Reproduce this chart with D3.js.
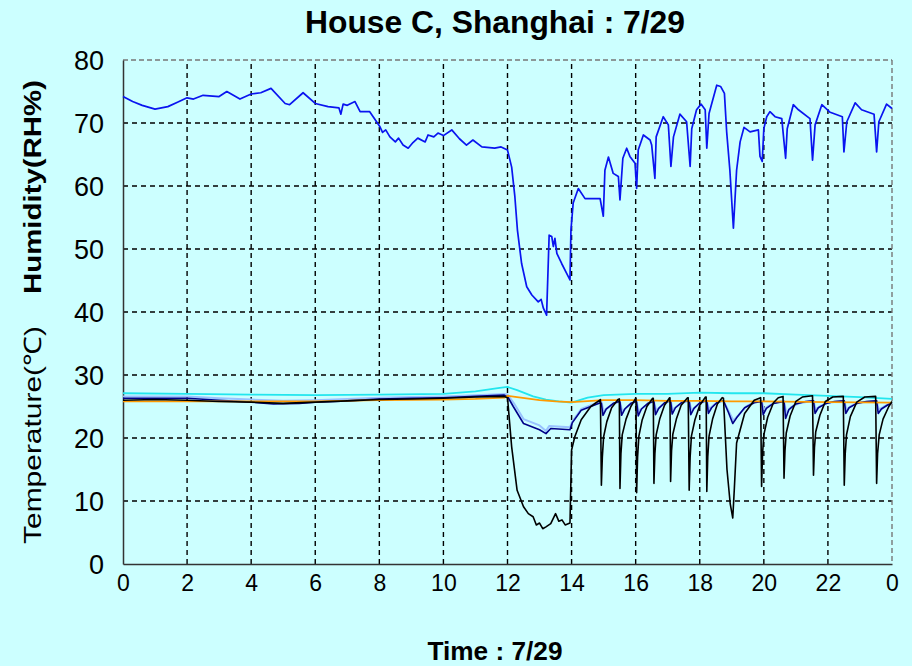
<html>
<head>
<script src="https://d3js.org/d3.v7.min.js"></script>
<style>
body { margin: 0; background: #ccffff; }
svg { display: block; }
text { font-family: "Liberation Sans", Arial, sans-serif; fill: #000; }
.grid line { stroke: #000; stroke-width: 1.4; stroke-dasharray: 5,4; }
</style>
</head>
<body>
<div id="plot"></div>
<script>

var width = 912;
var height = 666;

// x tick values and labels (hours of 7/29)
var xTicks = [0, 2, 4, 6, 8, 10, 12, 14, 16, 18, 20, 22, 24];
var xTickLabels = ["0", "2", "4", "6", "8", "10", "12", "14", "16", "18", "20", "22", "0"];
var yTicks = [0, 10, 20, 30, 40, 50, 60, 70, 80];

// humidity (RH%), [hour, value]
var humidity = [
  [0, 74.2], [0.15, 73.8], [0.3, 73.4], [0.6, 72.8], [1.0, 72.2], [1.4, 72.6], [1.7, 73.3], [2.0, 74.0],
  [2.2, 73.8], [2.5, 74.4], [3.0, 74.2], [3.24, 75.0], [3.65, 73.8], [4.0, 74.6], [4.3, 74.8],
  [4.62, 75.5], [5.06, 73.1], [5.2, 72.9], [5.62, 74.8], [6.0, 73.1], [6.4, 72.6],
  [6.74, 72.4], [6.8, 71.4], [6.87, 73.0], [7.0, 72.8], [7.24, 73.4], [7.4, 71.8], [7.7, 71.8],
  [8.02, 69.4], [8.1, 68.5], [8.2, 68.9], [8.33, 67.8], [8.5, 67.0], [8.6, 67.6], [8.74, 66.5], [8.9, 66.0],
  [9.05, 66.9], [9.2, 67.6], [9.43, 67.0], [9.52, 68.1], [9.7, 67.8], [9.83, 68.4], [10.0, 68.0], [10.26, 68.9],
  [10.5, 67.5], [10.72, 66.5], [10.92, 67.3], [11.2, 66.2], [11.6, 66.0], [11.8, 66.2], [12.0, 65.7],
  [12.13, 63.0], [12.23, 58.3], [12.31, 53.0], [12.44, 47.7], [12.6, 44.0], [12.76, 42.7],
  [12.96, 41.6], [13.05, 42.0], [13.12, 40.6], [13.22, 39.5], [13.3, 52.2], [13.38, 52.0], [13.43, 50.4],
  [13.48, 51.7], [13.54, 49.3], [13.69, 47.7], [13.85, 46.1], [13.95, 45.1], [13.98, 53.0],
  [14.05, 57.3], [14.21, 59.6], [14.42, 58.0], [14.89, 58.0], [14.99, 55.2], [15.04, 62.5],
  [15.15, 64.6], [15.3, 62.0], [15.46, 61.5], [15.51, 57.8], [15.6, 64.4], [15.72, 66.0],
  [15.82, 64.7], [15.98, 63.6], [16.03, 59.6], [16.08, 65.7], [16.24, 68.1], [16.45, 67.3],
  [16.5, 66.5], [16.6, 61.2], [16.64, 67.8], [16.86, 71.0], [17.02, 69.7], [17.1, 63.1],
  [17.18, 67.8], [17.38, 71.4], [17.59, 70.2], [17.7, 63.1], [17.75, 69.1], [17.9, 72.1],
  [18.04, 73.0], [18.17, 72.1], [18.22, 66.0], [18.29, 71.5], [18.53, 76.0], [18.65, 75.8],
  [18.77, 74.7], [18.84, 68.6], [18.94, 62.5], [19.05, 53.3], [19.15, 62.5], [19.26, 67.0],
  [19.38, 69.3], [19.57, 68.6], [19.83, 68.9], [19.88, 64.7], [19.95, 63.9], [20.0, 69.1],
  [20.09, 71.0], [20.19, 71.8], [20.35, 71.0], [20.56, 70.7], [20.63, 67.0], [20.68, 64.4],
  [20.73, 69.1], [20.92, 72.9], [21.08, 72.1], [21.44, 70.7], [21.52, 64.1], [21.6, 69.7],
  [21.81, 72.9], [22.07, 71.7], [22.45, 71.0], [22.5, 65.4], [22.59, 70.2], [22.85, 73.2],
  [23.05, 72.1], [23.44, 71.4], [23.52, 65.4], [23.59, 70.2], [23.83, 73.0], [24.0, 72.3]
];

// temperature sensors (deg C), [hour, value]
var tempBlack = [
  [0, 26.0], [1, 26.1], [2, 26.0], [3, 25.8], [4, 25.7], [5, 25.5], [6, 25.7], [7, 25.9],
  [8, 26.1], [9, 26.2], [10, 26.3], [11, 26.5], [11.9, 26.6], [12.0, 26.4], [12.13, 18.6],
  [12.3, 11.7], [12.5, 9.1], [12.65, 8.0], [12.8, 7.5], [12.9, 6.2], [13.0, 6.5], [13.1, 5.6], [13.2, 5.9],
  [13.35, 6.4], [13.5, 8.0], [13.6, 6.8], [13.7, 7.0], [13.8, 6.2], [13.95, 6.5], [14.0, 18.1],
  [14.1, 20.2], [14.3, 22.9], [14.6, 25.0], [14.9, 26.1],
  [14.93, 12.5], [14.96, 17.0], [15.0, 20.2], [15.1, 22.6], [15.25, 24.8], [15.45, 26.1],
  [15.49, 26.2], [15.51, 12.0], [15.54, 17.5], [15.58, 20.5], [15.7, 23.0], [15.85, 25.0], [15.99, 26.2],
  [16.01, 26.3], [16.03, 11.3], [16.06, 17.0], [16.1, 20.3], [16.2, 22.8], [16.35, 25.0], [16.53, 26.3],
  [16.55, 26.3], [16.57, 12.8], [16.6, 17.5], [16.64, 20.5], [16.75, 23.0], [16.9, 25.2], [17.06, 26.4],
  [17.07, 26.4], [17.09, 13.1], [17.12, 18.0], [17.16, 20.6], [17.27, 23.0], [17.42, 25.2], [17.62, 26.4],
  [17.64, 26.4], [17.67, 11.7], [17.7, 17.0], [17.74, 20.3], [17.85, 22.9], [18.0, 25.2], [18.18, 26.5],
  [18.2, 26.5], [18.22, 11.5], [18.25, 17.0], [18.29, 20.3], [18.4, 23.0], [18.55, 25.4], [18.7, 26.4],
  [18.74, 26.3], [18.85, 15.0], [18.95, 9.6], [19.03, 7.3], [19.08, 12.0], [19.15, 19.2], [19.4, 23.9],
  [19.7, 26.0], [19.9, 26.4], [19.93, 12.3], [19.96, 17.5], [20.0, 20.5], [20.12, 23.3], [20.3, 25.6],
  [20.45, 26.4], [20.6, 26.6], [20.63, 13.6], [20.66, 18.0], [20.7, 20.8], [20.82, 23.5], [21.0, 25.8],
  [21.2, 26.5], [21.52, 26.7], [21.55, 14.1], [21.58, 18.5], [21.62, 21.0], [21.75, 23.6], [21.92, 25.8],
  [22.15, 26.5], [22.48, 26.6], [22.51, 12.5], [22.54, 17.5], [22.58, 20.5], [22.7, 23.4], [22.9, 25.7],
  [23.15, 26.5], [23.49, 26.6], [23.52, 12.8], [23.55, 17.5], [23.6, 20.5], [23.72, 23.0], [23.9, 25.0],
  [24.0, 25.8]
];

var tempNavy = [
  [0, 26.3], [2, 26.3], [3, 26.0], [4, 25.7], [4.7, 25.4], [5.5, 25.5], [6, 25.7], [7, 25.9],
  [8, 26.2], [9, 26.3], [10, 26.4], [11, 26.6], [11.9, 26.8], [12.0, 26.6], [12.18, 25.0],
  [12.5, 22.3], [13.0, 21.3], [13.2, 20.7], [13.35, 21.5], [13.95, 21.3], [14.02, 22.4],
  [14.3, 24.4], [14.7, 25.2], [14.9, 25.6],
  [14.93, 25.5], [14.98, 23.6], [15.08, 24.6], [15.3, 25.5], [15.49, 25.8],
  [15.51, 25.7], [15.56, 23.6], [15.66, 24.6], [15.85, 25.5], [16.01, 25.8],
  [16.03, 25.7], [16.08, 23.5], [16.18, 24.6], [16.38, 25.5], [16.55, 25.8],
  [16.57, 25.8], [16.62, 23.7], [16.72, 24.7], [16.9, 25.6], [17.07, 25.9],
  [17.09, 25.9], [17.14, 23.8], [17.24, 24.8], [17.45, 25.7], [17.64, 25.9],
  [17.67, 25.9], [17.72, 23.7], [17.82, 24.7], [18.0, 25.6], [18.2, 25.9],
  [18.22, 25.9], [18.27, 23.9], [18.37, 24.8], [18.55, 25.7], [18.74, 25.9],
  [18.9, 24.0], [19.03, 22.3], [19.15, 23.2], [19.4, 24.8], [19.7, 25.6], [19.93, 25.8],
  [19.98, 23.7], [20.08, 24.7], [20.3, 25.5], [20.63, 25.8],
  [20.68, 23.1], [20.78, 24.5], [21.0, 25.4], [21.3, 25.8], [21.55, 25.9],
  [21.6, 23.9], [21.7, 24.8], [21.95, 25.5], [22.2, 25.8], [22.51, 25.9],
  [22.56, 23.9], [22.66, 24.8], [22.9, 25.5], [23.2, 25.8], [23.52, 25.9],
  [23.57, 23.9], [23.67, 24.6], [23.85, 25.2], [24.0, 25.6]
];

var tempLightBlue = [
  [0, 26.6], [2, 26.6], [3, 26.3], [4, 26.1], [5, 25.9], [6, 26.0], [7, 26.2], [8, 26.4],
  [9, 26.5], [10, 26.6], [11, 26.8], [11.9, 27.0], [12.0, 26.9], [12.2, 25.5], [12.5, 23.0],
  [13.0, 22.0], [13.2, 21.1], [13.3, 21.9], [13.95, 21.7], [14.02, 22.6], [14.3, 24.6],
  [14.7, 25.4], [14.9, 25.8],
  [14.93, 25.7], [15.0, 24.3], [15.15, 24.9], [15.35, 25.5], [15.51, 25.8],
  [15.58, 24.2], [15.72, 24.9], [15.9, 25.5], [16.03, 25.8],
  [16.1, 24.2], [16.24, 24.9], [16.42, 25.5], [16.57, 25.8],
  [16.64, 24.4], [16.78, 25.0], [16.95, 25.6], [17.09, 25.9],
  [17.16, 24.5], [17.3, 25.1], [17.48, 25.6], [17.67, 25.9],
  [17.74, 24.4], [17.88, 25.0], [18.05, 25.6], [18.22, 25.9],
  [18.29, 24.6], [18.43, 25.2], [18.6, 25.7], [18.74, 25.9],
  [18.9, 24.3], [19.05, 22.8], [19.2, 23.6], [19.45, 25.0], [19.7, 25.7], [19.93, 25.9],
  [20.0, 24.5], [20.15, 25.1], [20.35, 25.6], [20.63, 25.9],
  [20.7, 24.0], [20.85, 24.9], [21.1, 25.5], [21.55, 25.9],
  [21.62, 24.5], [21.77, 25.1], [22.0, 25.6], [22.51, 25.9],
  [22.58, 24.5], [22.73, 25.1], [22.95, 25.6], [23.52, 25.9],
  [23.59, 24.5], [23.75, 25.0], [24.0, 25.6]
];

var tempCyan = [
  [0, 27.1], [2, 27.0], [4, 26.9], [6, 26.8], [8, 26.9], [10, 27.0], [11, 27.4], [11.7, 27.9],
  [12.0, 28.1], [12.3, 27.6], [12.8, 26.6], [13.2, 26.1], [13.6, 25.8], [14.0, 25.6], [14.5, 26.4],
  [15, 26.8], [16, 27.0], [17, 27.0], [18, 27.2], [19, 27.1], [20, 27.1], [21, 26.9], [22, 26.7],
  [23, 26.5], [24, 26.2]
];

var tempOrange = [
  [0, 25.8], [2, 25.8], [4, 25.8], [6, 25.8], [8, 26.0], [10, 26.1], [11, 26.2], [11.9, 26.4],
  [12.0, 26.7], [12.3, 26.5], [13, 26.0], [13.5, 25.8], [14, 25.7], [15, 26.0], [16, 26.0],
  [17, 25.9], [18, 25.9], [19, 25.8], [20, 25.8], [22, 25.7], [24, 25.6]
];

var svg = d3.select("#plot").append("svg")
  .attr("width", width).attr("height", height);

var xScale = d3.scaleLinear().domain([0, 24]).range([123, 892]);
var yScale = d3.scaleLinear().domain([0, 80]).range([564, 60]);

// grid
var grid = svg.append("g").attr("class", "grid");
grid.selectAll("line.v").data(xTicks.slice(1, -1)).enter().append("line")
  .attr("x1", function (d) { return xScale(d); })
  .attr("x2", function (d) { return xScale(d); })
  .attr("y1", yScale(0)).attr("y2", yScale(80));
grid.selectAll("line.h").data(yTicks.slice(1, -1)).enter().append("line")
  .attr("y1", function (d) { return yScale(d); })
  .attr("y2", function (d) { return yScale(d); })
  .attr("x1", xScale(0)).attr("x2", xScale(24));

// top and right frame, dashed grey
svg.append("line")
  .attr("x1", xScale(0)).attr("x2", xScale(24))
  .attr("y1", yScale(80)).attr("y2", yScale(80))
  .style("stroke", "#777").style("stroke-width", 1.4).style("stroke-dasharray", "5,3");
svg.append("line")
  .attr("x1", xScale(24)).attr("x2", xScale(24))
  .attr("y1", yScale(80)).attr("y2", yScale(0))
  .style("stroke", "#777").style("stroke-width", 1.4).style("stroke-dasharray", "5,3");

// axes
var xAxis = d3.axisBottom(xScale).tickValues(xTicks).tickSize(0).tickPadding(11)
  .tickFormat(function (d, i) { return xTickLabels[i]; });
var gx = svg.append("g").attr("transform", "translate(0," + yScale(0) + ")").call(xAxis);
gx.select(".domain").style("stroke", "#333").style("stroke-width", 1.5);
gx.selectAll("text").style("font-family", "'Liberation Sans Narrow', 'Liberation Sans', Arial")
  .style("font-size", "23px").attr("fill", "#000");

var yAxis = d3.axisLeft(yScale).tickValues(yTicks).tickSize(0).tickPadding(19);
var gy = svg.append("g").attr("transform", "translate(" + xScale(0) + ",0)").call(yAxis);
gy.select(".domain").style("stroke", "#333").style("stroke-width", 1.5);
gy.selectAll("text").style("font-size", "27px").attr("fill", "#000").attr("dy", "0.36em");

// series
var line = d3.line()
  .x(function (d) { return xScale(d[0]); })
  .y(function (d) { return yScale(d[1]); });

var series = [
  { data: tempLightBlue, color: "#99c2ff", w: 2 },
  { data: tempNavy, color: "#000088", w: 1.6 },
  { data: tempCyan, color: "#22e6ee", w: 1.8 },
  { data: tempOrange, color: "#ff9a00", w: 1.8 },
  { data: tempBlack, color: "#000000", w: 1.6 },
  { data: humidity, color: "#0a14f0", w: 1.7 }
];

svg.append("g").selectAll("path").data(series).enter().append("path")
  .attr("d", function (s) { return line(s.data); })
  .style("fill", "none")
  .style("stroke", function (s) { return s.color; })
  .style("stroke-width", function (s) { return s.w; })
  .style("stroke-linejoin", "round");

// titles
svg.append("text").attr("x", 495).attr("y", 33).attr("text-anchor", "middle")
  .attr("textLength", 380).attr("lengthAdjust", "spacingAndGlyphs")
  .style("font-size", "31px").style("font-weight", "bold")
  .text("House C, Shanghai : 7/29");

svg.append("text").attr("x", 495).attr("y", 660).attr("text-anchor", "middle")
  .attr("textLength", 135).attr("lengthAdjust", "spacingAndGlyphs")
  .style("font-size", "26px").style("font-weight", "bold")
  .text("Time : 7/29");

svg.append("text").attr("transform", "translate(41,187) rotate(-90)")
  .attr("text-anchor", "middle").attr("textLength", 214).attr("lengthAdjust", "spacingAndGlyphs")
  .style("font-size", "24px").style("font-weight", "bold")
  .text("Humidity(RH%)");

svg.append("text").attr("transform", "translate(41,435) rotate(-90)")
  .attr("text-anchor", "middle").attr("textLength", 218).attr("lengthAdjust", "spacingAndGlyphs")
  .style("font-size", "24px")
  .text("Temperature(℃)");

</script>
</body>
</html>
